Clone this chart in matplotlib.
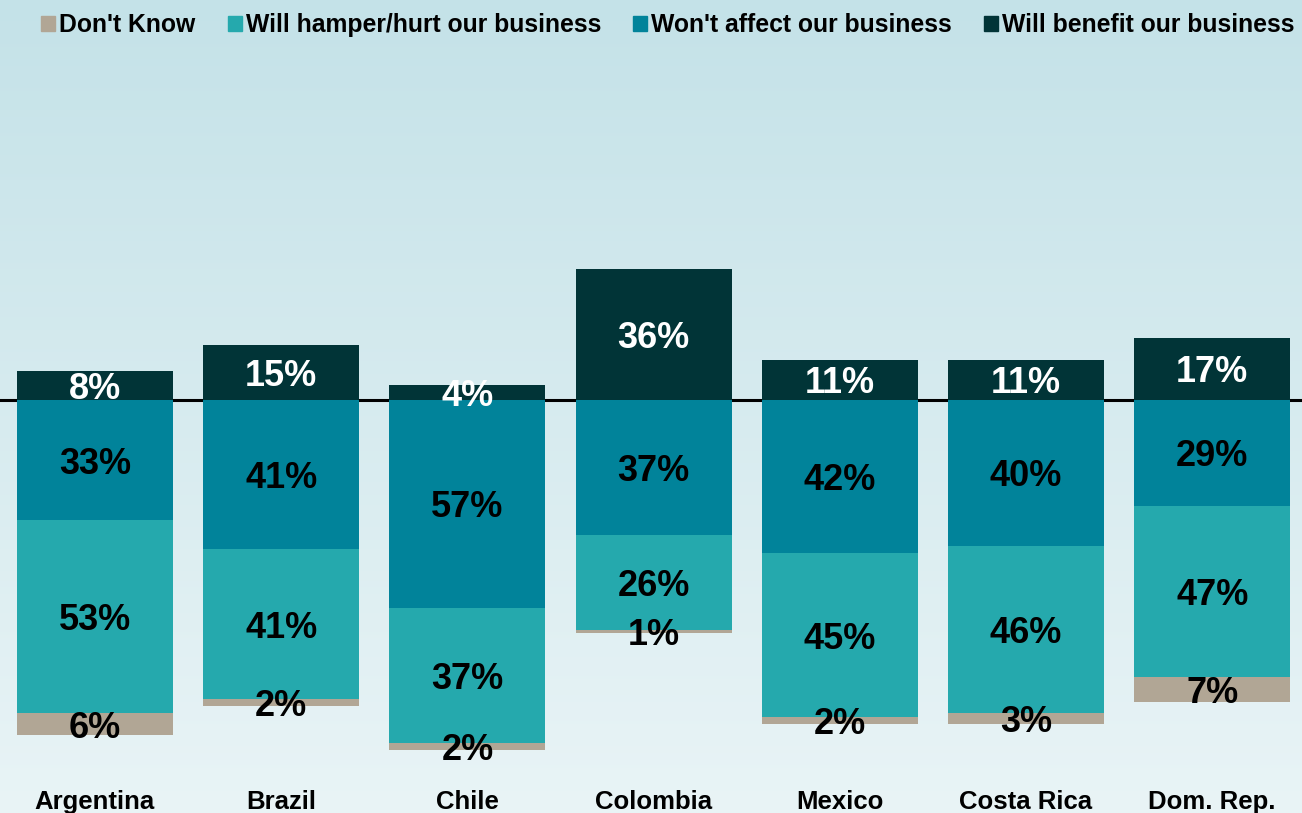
import numpy as np
import matplotlib
matplotlib.use("Agg")
import matplotlib.pyplot as plt
from matplotlib.patches import Patch
from matplotlib.colors import LinearSegmentedColormap

# survey answers per country, in percent
countries = ["Argentina", "Brazil", "Chile", "Colombia", "Mexico", "Costa Rica", "Dom. Rep."]
benefit = [8, 15, 4, 36, 11, 11, 17]
no_effect = [33, 41, 57, 37, 42, 40, 29]
hamper = [53, 41, 37, 26, 45, 46, 47]
dont_know = [6, 2, 2, 1, 2, 3, 7]

c_benefit = "#013437"
c_no_effect = "#01839a"
c_hamper = "#25a9ad"
c_dk = "#b1a695"

plt.rcParams["font.family"] = ["Liberation Sans", "DejaVu Sans"]

fig = plt.figure(figsize=(13.02, 8.13), dpi=100)

# soft vertical background gradient
bg = fig.add_axes([0, 0, 1, 1], zorder=-10)
cmap = LinearSegmentedColormap.from_list("bg", ["#c4e2e8", "#e9f4f6"])
bg.imshow(np.linspace(0, 1, 256).reshape(-1, 1), aspect="auto", cmap=cmap,
          extent=[0, 1, 0, 1])
bg.axis("off")

ax = fig.add_axes([0, 0.0467, 1, 0.9533])
ax.patch.set_alpha(0)

x = np.arange(len(countries))
w = 0.838
b = np.array(benefit)
n = np.array(no_effect)
h = np.array(hamper)
d = np.array(dont_know)

ax.axhline(0, color="black", lw=2.2, zorder=1)
ax.bar(x, b, w, bottom=0, color=c_benefit, zorder=2)
ax.bar(x, -n, w, bottom=0, color=c_no_effect, zorder=2)
ax.bar(x, -h, w, bottom=-n, color=c_hamper, zorder=2)
ax.bar(x, -d, w, bottom=-(n + h), color=c_dk, zorder=2)

lbl = dict(ha="center", va="center_baseline", fontsize=26, fontweight="bold", zorder=3)
for i in range(len(x)):
    ax.text(x[i], b[i] / 2, f"{b[i]}%", color="white", **lbl)
    ax.text(x[i], -n[i] / 2, f"{n[i]}%", color="black", **lbl)
    ax.text(x[i], -n[i] - h[i] / 2, f"{h[i]}%", color="black", **lbl)
    ax.text(x[i], -n[i] - h[i] - d[i] / 2, f"{d[i]}%", color="black", **lbl)

ax.set_xlim(-0.51, 6.482)
ax.set_ylim(-102.9, 109.7)
ax.set_yticks([])
ax.set_xticks(x)
ax.set_xticklabels(countries, fontsize=18.5, fontweight="bold")
ax.tick_params(axis="x", length=0, pad=11)
for s in ax.spines.values():
    s.set_visible(False)

handles = [Patch(color=c_dk), Patch(color=c_hamper),
           Patch(color=c_no_effect), Patch(color=c_benefit)]
names = ["Don't Know", "Will hamper/hurt our business",
         "Won't affect our business", "Will benefit our business"]
fig.legend(handles, names, loc="center", bbox_to_anchor=(0.513, 0.969), ncol=4,
           frameon=False, handlelength=0.57, handleheight=0.57, handletextpad=0.16,
           columnspacing=1.3, borderaxespad=0,
           prop=dict(weight="bold", size=17.8))

fig.savefig("out.png", dpi=100)
